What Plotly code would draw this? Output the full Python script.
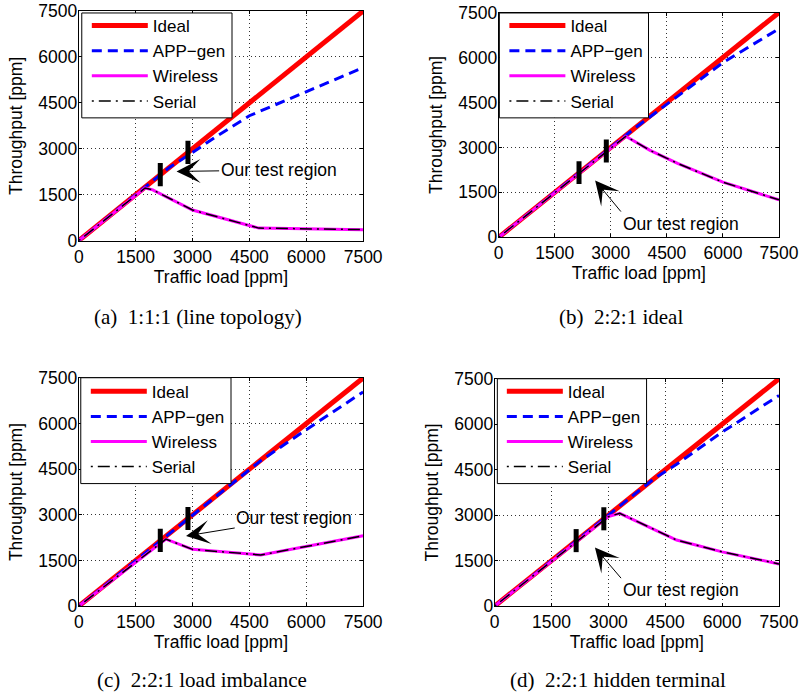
import plotly.graph_objects as go

# ---- data -------------------------------------------------------------
tick_vals = [0, 1500, 3000, 4500, 6000, 7500]
axis_range = [0, 7500]

ideal_x = [0, 7500]
ideal_y = [0, 7500]

# (a) 1:1:1 line topology
app_x_a = [0, 2400, 3000, 3600, 4500, 6000, 7500]
app_y_a = [0, 2400, 2880, 3380, 4080, 4870, 5650]
wl_x_a = [0, 1750, 1950, 3000, 4750, 7500]
wl_y_a = [0, 1720, 1660, 1000, 410, 360]
ser_x_a = [0, 1750, 1950, 3000, 4750, 7500]
ser_y_a = [0, 1720, 1660, 1000, 410, 360]

# (b) 2:2:1 ideal
app_x_b = [0, 3600, 4800, 6000, 7500]
app_y_b = [0, 3600, 4720, 5830, 6960]
wl_x_b = [0, 3400, 4050, 4800, 6000, 7500]
wl_y_b = [0, 3370, 2900, 2460, 1840, 1250]
ser_x_b = [0, 3400, 4050, 4800, 6000, 7500]
ser_y_b = [0, 3370, 2900, 2460, 1840, 1250]

# (c) 2:2:1 load imbalance
app_x_c = [0, 4800, 6000, 7500]
app_y_c = [0, 4780, 5800, 7040]
wl_x_c = [0, 2300, 3000, 4800, 7500]
wl_y_c = [0, 2200, 1865, 1680, 2310]
ser_x_c = [0, 2300, 3000, 4800, 7500]
ser_y_c = [0, 2200, 1865, 1680, 2310]

# (d) 2:2:1 hidden terminal
app_x_d = [0, 4200, 4800, 6000, 7500]
app_y_d = [0, 4200, 4680, 5740, 6950]
wl_x_d = [0, 3000, 3300, 4800, 6000, 7500]
wl_y_d = [0, 2950, 3060, 2180, 1790, 1390]
ser_x_d = [0, 3000, 3300, 4800, 6000, 7500]
ser_y_d = [0, 2950, 3060, 2180, 1790, 1390]

# test region bounds (traffic load, throughput low/high)
test_x = [2150, 2880]
test_lo = [1780, 2500]
test_hi = [2540, 3260]

captions = [
    "(a)\u00a0\u00a01:1:1 (line topology)",
    "(b)\u00a0\u00a02:2:1 ideal",
    "(c)\u00a0\u00a02:2:1 load imbalance",
    "(d)\u00a0\u00a02:2:1 hidden terminal",
]

# layout of each panel: axis domains, arrow placement, caption and legend frame
panels = [
    dict(app=(app_x_a, app_y_a), wl=(wl_x_a, wl_y_a), ser=(ser_x_a, ser_y_a),
         xdom=[0.0953, 0.4627], ydom=[0.6598, 0.9985],
         head=(2579, 2261), tail=(5272, 2306), anchor=("center", "middle"),
         cap=(0.2493, 0.5467), leg=(0.1057, 1.0029),
         frame=(0.0992, 0.2933, 0.8409, 0.9956)),
    dict(app=(app_x_b, app_y_b), wl=(wl_x_b, wl_y_b), ser=(ser_x_b, ser_y_b),
         xdom=[0.6378, 1.0], ydom=[0.6647, 0.9963],
         head=(2581, 1898), tail=(3270, 860), anchor=("left", "top"),
         cap=(0.7965, 0.5467), leg=(0.6452, 1.0029),
         frame=(0.6387, 0.8314, 0.8409, 0.9956)),
    dict(app=(app_x_c, app_y_c), wl=(wl_x_c, wl_y_c), ser=(ser_x_c, ser_y_c),
         xdom=[0.0953, 0.4627], ydom=[0.1208, 0.4573],
         head=(2829, 2306), tail=(5683, 2888), anchor=("center", "middle"),
         cap=(0.2545, 0.0118), leg=(0.1044, 0.4635),
         frame=(0.0979, 0.2920, 0.3015, 0.4576)),
    dict(app=(app_x_d, app_y_d), wl=(wl_x_d, wl_y_d), ser=(ser_x_d, ser_y_d),
         xdom=[0.6326, 1.0], ydom=[0.1208, 0.4561],
         head=(2645, 1933), tail=(3334, 922), anchor=("left", "top"),
         cap=(0.7926, 0.0118), leg=(0.6419, 0.4635),
         frame=(0.6361, 0.8289, 0.3015, 0.4561)),
]

SANS = "Liberation Sans, Arial, sans-serif"
SERIF = "Liberation Serif, Times New Roman, serif"
FS = 17.5

fig = go.Figure()
layout = dict(
    width=799, height=698, margin=dict(l=0, r=0, t=0, b=0),
    paper_bgcolor="white", plot_bgcolor="white",
    font=dict(family=SANS, size=FS, color="black"),
    annotations=[], shapes=[],
)

for i, p in enumerate(panels):
    n = "" if i == 0 else str(i + 1)
    xa, ya = "x" + n, "y" + n
    leg = "legend" + n
    common = dict(xaxis=xa, yaxis=ya, legend=leg)

    fig.add_trace(go.Scatter(x=ideal_x, y=ideal_y, mode="lines", name="Ideal",
                             line=dict(color="#ff0000", width=5), **common))
    fig.add_trace(go.Scatter(x=p["app"][0], y=p["app"][1], mode="lines", name="APP\u2212gen",
                             line=dict(color="#0000ff", width=3, dash="10px,6px"), **common))
    fig.add_trace(go.Scatter(x=p["wl"][0], y=p["wl"][1], mode="lines", name="Wireless",
                             line=dict(color="#ff00ff", width=3), **common))
    fig.add_trace(go.Scatter(x=p["ser"][0], y=p["ser"][1], mode="lines", name="Serial",
                             line=dict(color="black", width=1.5, dash="2px,5px,12px,5px"), **common))
    for tx, lo, hi in zip(test_x, test_lo, test_hi):
        fig.add_trace(go.Scatter(x=[tx, tx], y=[lo, hi], mode="lines", showlegend=False,
                                 line=dict(color="black", width=5), hoverinfo="skip",
                                 xaxis=xa, yaxis=ya))

    axis_common = dict(range=axis_range, tickvals=tick_vals, showgrid=True,
                       gridcolor="#333", griddash="1px,3px", gridwidth=1,
                       showline=True, linecolor="black", linewidth=1, mirror="ticks",
                       ticks="inside", ticklen=3, tickcolor="black", zeroline=False,
                       tickfont=dict(size=FS), fixedrange=True)
    layout["xaxis" + n] = dict(axis_common, domain=p["xdom"], anchor=ya,
                               title=dict(text="Traffic load [ppm]", standoff=2,
                                          font=dict(size=FS)))
    layout["yaxis" + n] = dict(axis_common, domain=p["ydom"], anchor=xa,
                               ticklabelstandoff=-3,
                               title=dict(text="Throughput [ppm]", standoff=11,
                                          font=dict(size=FS)))

    # legend sits on a white framed box drawn above the traces
    fx0, fx1, fy0, fy1 = p["frame"]
    layout["shapes"].append(dict(type="rect", xref="paper", yref="paper",
                                 x0=fx0, x1=fx1, y0=fy0, y1=fy1, layer="above",
                                 fillcolor="white", line=dict(color="black", width=1)))
    layout[leg] = dict(x=p["leg"][0], y=p["leg"][1], xanchor="left", yanchor="top",
                       bgcolor="rgba(0,0,0,0)", borderwidth=0,
                       font=dict(size=17), itemwidth=56, tracegroupgap=0)

    layout["annotations"].append(dict(
        x=p["head"][0], y=p["head"][1], xref=xa, yref=ya,
        ax=p["tail"][0], ay=p["tail"][1], axref=xa, ayref=ya,
        text="Our test region", showarrow=True, arrowhead=3, arrowsize=4,
        arrowwidth=1, arrowcolor="black", xanchor=p["anchor"][0], yanchor=p["anchor"][1],
        font=dict(size=FS),
    ))
    layout["annotations"].append(dict(
        x=p["cap"][0], y=p["cap"][1], xref="paper", yref="paper", showarrow=False,
        text=captions[i], font=dict(family=SERIF, size=21, color="black"),
        xanchor="center", yanchor="middle",
    ))

fig.update_layout(**layout)
fig.write_html("out.html")
